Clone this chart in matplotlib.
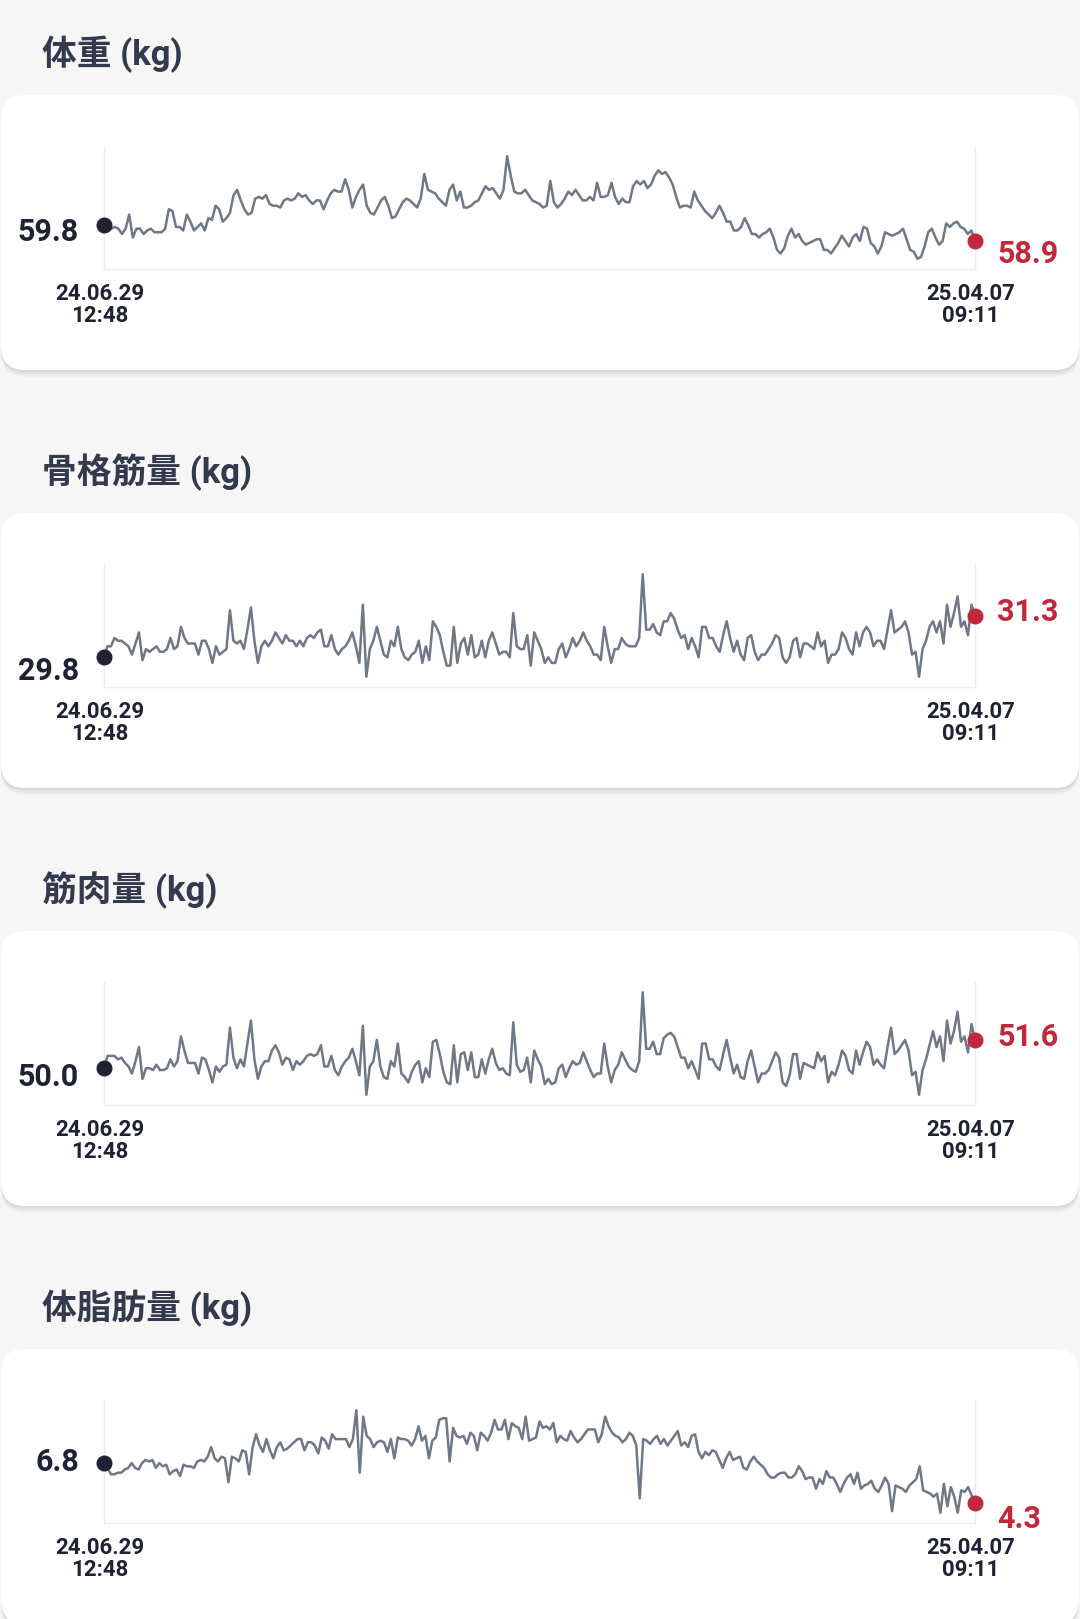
import matplotlib
matplotlib.use('Agg')
import matplotlib.pyplot as plt
from matplotlib.patches import FancyBboxPatch
import numpy as np

# ---------------- data ----------------
titles = ["体重 (kg)", "骨格筋量 (kg)", "筋肉量 (kg)", "体脂肪量 (kg)"]
start_date = ["24.06.29", "12:48"]
end_date = ["25.04.07", "09:11"]

weight = [59.8, 59.7, 59.6, 59.7, 59.6, 59.3, 59.6, 60.4, 59.1, 59.6, 59.6, 59.3, 59.5, 59.6, 59.4, 59.4,
          59.4, 59.6, 60.7, 60.6, 59.7, 59.7, 59.5, 60.4, 60.0, 59.5, 59.7, 59.9, 59.5, 60.2, 60.1, 60.9,
          60.7, 60.0, 60.2, 60.5, 61.5, 61.8, 61.2, 60.7, 60.4, 60.5, 61.3, 61.4, 61.3, 61.5, 61.0, 60.9,
          60.9, 60.8, 61.2, 61.3, 61.2, 61.3, 61.6, 61.4, 61.5, 61.2, 61.0, 61.2, 61.2, 60.7, 61.2, 61.6,
          61.8, 61.7, 61.7, 62.4, 61.8, 60.8, 61.4, 61.8, 62.1, 60.9, 60.5, 60.4, 60.8, 61.2, 61.4, 60.9,
          60.2, 60.3, 60.7, 61.1, 61.3, 61.2, 61.0, 60.8, 61.3, 62.7, 61.8, 61.7, 61.6, 61.3, 61.1, 60.9,
          61.8, 62.1, 61.2, 61.7, 60.8, 60.8, 60.9, 61.1, 61.2, 61.6, 62.0, 61.8, 61.9, 61.6, 61.3, 61.8,
          63.7, 62.6, 61.7, 61.6, 61.6, 61.8, 61.5,
          61.2, 61.1, 61.0, 60.8, 60.9, 62.3, 61.1, 60.8, 61.0, 61.3, 61.7, 61.5, 61.8, 61.5, 61.2, 61.2,
          61.4, 61.2, 62.2, 61.4, 61.4, 61.5, 62.2, 61.4, 61.0, 61.3, 61.1, 61.1, 62.0, 62.3, 62.1, 62.3,
          61.9, 62.1, 62.6, 62.9, 62.7, 62.8, 62.5, 62.1, 61.4, 60.8, 60.9, 60.9, 60.8, 61.7, 61.2, 60.9,
          60.6, 60.4, 60.2, 60.5, 60.9, 60.5, 60.0, 60.0, 59.5, 59.5, 59.7, 60.2, 59.8, 59.3, 59.3, 59.1,
          59.3, 59.4, 59.6, 59.1, 58.4, 58.2, 58.5, 59.2, 59.6, 59.1, 59.3, 58.9, 58.7, 58.8, 58.9, 59.0,
          59.0, 58.4, 58.4, 58.2, 58.5, 58.8, 59.2, 58.9, 58.6, 59.1, 59.3, 58.9, 59.7, 59.6, 58.8, 58.6,
          58.2, 58.6, 59.4, 59.3, 59.2, 59.3, 59.4, 59.6, 59.0, 58.4, 58.3, 57.9, 58.0, 58.6, 59.4, 59.6,
          59.1, 58.7, 58.9, 59.9, 59.7, 59.9, 60.0, 59.7, 59.6, 59.3, 59.5, 58.9]

skeletal_muscle = [29.8, 30.2, 30.2, 30.5, 30.4, 30.4, 30.3, 30.2, 29.9, 30.3, 30.7, 29.7, 30.1, 30.0, 30.1,
                   30.2, 30.0, 30.0, 30.1, 30.5, 30.1, 30.2, 30.9, 30.5, 30.3, 30.3, 30.3, 29.9, 30.4, 30.4,
                   30.1, 29.6, 30.2, 29.9, 30.0, 30.1, 31.5, 30.4, 30.3, 30.4, 30.1, 30.8, 31.6, 30.4, 29.6,
                   30.2, 30.4, 30.2, 30.4, 30.7, 30.5, 30.3, 30.6, 30.4, 30.4, 30.2, 30.4, 30.2, 30.5, 30.6,
                   30.5, 30.7, 30.8, 30.2, 30.2, 30.6, 30.1, 29.9, 30.1, 30.2, 30.4, 30.7, 30.2, 29.6, 31.7,
                   29.1, 30.1, 30.4, 30.9, 30.4, 29.9, 29.8, 30.4, 30.2, 30.9, 30.1, 29.8, 29.7, 29.9, 30.0,
                   30.4, 29.6, 30.2, 29.7, 31.1, 30.9, 30.6, 30.0, 29.5, 29.5, 30.9, 29.6, 30.3, 30.5, 29.9,
                   30.6, 29.8, 29.9, 30.4, 29.8, 30.4, 30.7, 30.3, 29.9, 30.0, 30.0, 29.8, 31.4, 30.2, 30.1,
                   30.1, 30.6, 29.5, 30.7, 30.4,
                   30.1, 29.6, 29.8, 29.6, 29.6, 30.1, 30.3, 29.8, 30.1, 30.5, 30.2, 30.4, 30.7, 30.4, 30.2,
                   29.9, 29.9, 29.7, 30.9, 30.2, 29.6, 30.1, 30.1, 30.5, 30.3, 30.2, 30.2, 30.2, 30.5, 32.8,
                   30.8, 30.8, 31.0, 30.7, 30.6, 31.1, 31.1, 31.4, 31.2, 30.8, 30.5, 30.6, 30.1, 30.5, 30.2,
                   29.8, 30.9, 30.9, 30.5, 30.5, 30.2, 30.0, 30.6, 31.1, 30.5, 30.0, 30.4, 29.9, 29.7, 30.5,
                   30.6, 30.0, 29.7, 29.9, 29.9, 30.1, 30.3, 30.6, 30.5, 29.8, 29.6, 29.8, 30.4, 30.5, 29.8,
                   30.3, 30.3, 30.2, 30.1, 30.7, 30.2, 30.4, 29.6, 29.9, 29.9, 30.1, 30.7, 30.5, 30.1, 29.9,
                   30.7, 30.2, 30.7, 30.9, 30.7, 30.2, 30.4, 30.4, 30.1, 30.8, 31.5, 30.7, 30.8, 30.9, 31.1,
                   30.7, 29.9, 30.0, 29.1, 30.1, 30.4, 30.9, 31.1, 30.7, 31.1, 30.3, 31.7, 30.9, 31.4, 32.0,
                   30.9, 31.1, 30.6, 31.7, 31.3]

muscle = [50.0, 50.7, 50.7, 50.7, 50.5, 50.6, 50.3, 50.1, 49.7, 50.4, 51.2, 49.4, 50.0, 50.0, 49.9, 50.2,
          49.9, 49.9, 50.0, 50.5, 50.1, 50.4, 51.8, 51.0, 50.3, 50.3, 50.3, 49.7, 50.6, 50.5, 49.9, 49.2,
          50.1, 49.8, 50.1, 50.2, 52.3, 50.6, 50.0, 50.5, 50.1, 51.4, 52.7, 50.5, 49.4, 50.1, 50.4, 50.4,
          51.0, 51.3, 50.9, 50.2, 50.6, 50.5, 49.9, 50.4, 50.2, 50.4, 50.7, 50.8, 50.7, 50.8, 51.3, 50.1,
          50.1, 50.7, 49.9, 49.6, 50.1, 50.4, 50.6, 51.1, 50.4, 49.6, 52.4, 48.5, 50.1, 50.4, 51.6, 50.1,
          49.5, 49.4, 50.4, 50.1, 51.4, 49.7, 49.5, 49.2, 49.8, 50.2, 50.4, 49.2, 50.0, 49.5, 51.5, 51.6,
          50.8, 49.8, 49.2, 49.1, 51.3, 49.2, 50.8, 50.9, 49.9, 50.9, 49.5, 49.5, 50.5, 49.7, 50.5, 51.1,
          50.3, 49.9, 50.0, 49.7, 49.6, 52.6, 50.2, 49.8, 49.9, 50.6, 49.2, 51.0, 50.5,
          50.1, 49.1, 49.4, 49.1, 49.2, 50.0, 50.2, 49.5, 50.0, 50.4, 50.2, 50.3, 50.9, 50.4, 49.9, 49.5,
          49.7, 49.7, 51.4, 50.1, 49.2, 49.9, 50.2, 50.9, 50.5, 50.1, 49.9, 49.8, 50.4, 54.3, 51.1, 51.1,
          51.5, 50.8, 50.8, 51.7, 51.9, 52.0, 51.8, 51.2, 50.6, 50.6, 50.0, 50.4, 49.9, 49.4, 51.4, 51.4,
          50.5, 50.5, 50.1, 49.9, 50.8, 51.6, 50.6, 49.7, 50.2, 49.5, 49.4, 50.4, 51.0, 50.1, 49.2, 49.7,
          49.7, 49.9, 50.4, 50.9, 50.6, 49.2, 49.0, 49.6, 50.8, 50.8, 49.4, 50.3, 50.2, 50.1, 50.0, 50.9,
          50.4, 50.7, 49.2, 49.8, 49.6, 50.2, 51.0, 50.7, 49.9, 49.7, 51.0, 50.2, 50.9, 51.5, 51.2, 50.2,
          50.5, 50.2, 50.0, 51.2, 52.3, 50.8, 51.0, 51.3, 51.6, 51.0, 49.6, 49.8, 48.5, 49.9, 50.5, 51.3,
          52.1, 51.2, 51.8, 50.4, 52.7, 51.4, 52.1, 53.2, 51.5, 51.8, 50.9, 52.5, 51.6]

body_fat = [6.8, 6.5, 6.1, 6.1, 6.2, 6.2, 6.4, 6.5, 6.8, 6.5, 6.4, 6.8, 7.0, 6.9, 7.0, 6.5, 6.8, 6.6, 6.7,
            6.1, 6.3, 6.4, 6.0, 6.7, 6.6, 6.6, 6.5, 6.9, 7.0, 6.9, 7.2, 7.8, 7.1, 6.9, 7.2, 7.1, 5.6, 7.2,
            7.1, 6.9, 7.6, 7.5, 6.1, 7.8, 8.6, 7.9, 7.5, 8.3, 7.6, 7.1, 7.8, 8.1, 7.6, 7.7, 7.9, 8.1, 8.3,
            8.3, 7.6, 8.1, 8.1, 7.9, 7.4, 8.4, 8.2, 7.7, 8.6, 8.3, 8.3, 8.3, 8.3, 7.8, 8.3, 10.1, 6.2, 9.7,
            8.5, 8.3, 7.8, 8.1, 8.2, 8.1, 7.5, 8.3, 7.1, 8.4, 8.3, 8.3, 8.2, 7.9, 8.3, 9.1, 8.2, 8.5, 7.1,
            8.2, 8.4, 9.5, 9.6, 9.6, 6.9, 9.0, 8.5, 8.4, 8.5, 8.0, 8.7, 8.5, 7.6, 8.7, 8.5, 8.2, 8.7, 9.5,
            8.9, 8.9, 9.5, 8.3, 9.3, 9.1, 9.0, 8.3, 9.7, 8.2, 8.3,
            8.4, 9.4, 9.0, 9.1, 8.9, 9.3, 8.1, 8.5, 8.3, 8.2, 8.8, 8.4, 8.1, 8.3, 8.6, 8.9, 8.9, 8.9, 8.1,
            8.6, 9.7, 9.1, 8.7, 8.5, 8.4, 8.1, 8.3, 8.7, 8.5, 7.9, 4.6, 8.3, 8.2, 8.0, 8.3, 8.5, 8.0, 8.3,
            7.9, 8.2, 8.5, 8.8, 7.9, 8.1, 7.8, 8.5, 8.6, 7.5, 7.1, 7.5, 7.3, 7.6, 7.5, 7.0, 6.5, 7.1, 7.5,
            7.0, 7.1, 7.2, 6.5, 6.4, 6.9, 7.2, 6.9, 6.7, 6.5, 6.1, 5.9, 5.9, 6.1, 6.2, 6.2, 5.9, 5.9, 6.1,
            6.6, 6.3, 5.8, 5.9, 5.9, 5.2, 5.8, 5.5, 6.3, 5.9, 5.9, 5.5, 5.0, 5.5, 5.9, 6.1, 5.5, 6.2, 5.2,
            5.4, 5.5, 5.7, 5.2, 5.0, 5.4, 5.9, 5.5, 3.8, 5.4, 5.3, 5.2, 5.0, 5.4, 5.6, 5.8, 6.6, 5.1, 5.0,
            4.9, 4.7, 4.9, 3.7, 5.5, 4.1, 5.3, 4.7, 3.7, 5.1, 5.0, 5.3, 4.8, 4.3]

series = [weight, skeletal_muscle, muscle, body_fat]

# ---------------- styling / layout ----------------
W, H = 1080, 1619
STEP = 418
FONT = ['Roboto', 'Noto Sans CJK JP', 'DejaVu Sans']
BG = '#f6f6f6'
LINE = '#6e7886'
DARK = '#1f2232'
RED = '#c1283b'
TITLE = '#343a4d'

# label offsets (pixels, relative to the marker) for start / end value labels
start_dy = [-16, -23, -18, -8]
end_dy = [-22, -5, -6, -25]

fig = plt.figure(figsize=(W / 100, H / 100), dpi=100)
fig.patch.set_facecolor(BG)
bg = fig.add_axes([0, 0, 1, 1])
bg.set_xlim(0, W)
bg.set_ylim(H, 0)
bg.axis('off')

for k, (title, vals) in enumerate(zip(titles, series)):
    off = STEP * k
    card_top, card_h = 95 + off, 275
    # soft shadow
    for dy, a in [(7, 0.025), (5, 0.03), (3, 0.035), (1.5, 0.04)]:
        bg.add_patch(FancyBboxPatch((1, card_top + dy), 1078, card_h,
                                    boxstyle="round,pad=0,rounding_size=24",
                                    fc='black', ec='none', alpha=a, zorder=1))
    bg.add_patch(FancyBboxPatch((1, card_top), 1078, card_h,
                                boxstyle="round,pad=0,rounding_size=24",
                                fc='white', ec='none', zorder=2))
    bg.text(42, 65 + off, title, fontsize=25, fontweight='bold', color=TITLE,
            family=FONT, ha='left', va='baseline', zorder=3)

    top, bottom = 146 + off, 269 + off
    ax = fig.add_axes([104 / W, 1 - bottom / H, (975 - 104) / W, (bottom - top) / H])
    ax.set_facecolor('none')
    x = np.arange(len(vals))
    ax.plot(x, vals, color=LINE, lw=1.8, solid_joinstyle='round', zorder=3)
    lo, hi = min(vals), max(vals)
    r = hi - lo
    ax.set_xlim(0, len(vals) - 1)
    ax.set_ylim(lo - 0.1 * r, hi + 0.1 * r)
    ax.set_xticks([])
    ax.set_yticks([])
    for s in ['left', 'right', 'bottom']:
        ax.spines[s].set_color('#ececec')
        ax.spines[s].set_linewidth(1.0)
    ax.spines['top'].set_visible(False)

    ax.plot(x[0], vals[0], 'o', ms=10.5, color=DARK, clip_on=False, zorder=5)
    ax.plot(x[-1], vals[-1], 'o', ms=10.5, color=RED, clip_on=False, zorder=5)

    ax.annotate(f"{vals[0]:.1f}", (x[0], vals[0]), xytext=(-25, start_dy[k]),
                textcoords='offset pixels', ha='right', va='baseline',
                fontsize=22, fontweight='bold', color=DARK, family=FONT,
                annotation_clip=False)
    ax.annotate(f"{vals[-1]:.1f}", (x[-1], vals[-1]), xytext=(22, end_dy[k]),
                textcoords='offset pixels', ha='left', va='baseline',
                fontsize=22, fontweight='bold', color=RED, family=FONT,
                annotation_clip=False)

    for j, dy in enumerate([-31, -53]):
        ax.annotate(start_date[j], (0, 0), xycoords='axes fraction', xytext=(-4, dy),
                    textcoords='offset pixels', ha='center', va='baseline',
                    fontsize=16, fontweight='bold', color=DARK, family=FONT,
                    annotation_clip=False)
        ax.annotate(end_date[j], (1, 0), xycoords='axes fraction', xytext=(-4, dy),
                    textcoords='offset pixels', ha='center', va='baseline',
                    fontsize=16, fontweight='bold', color=DARK, family=FONT,
                    annotation_clip=False)

fig.savefig('out.png', dpi=100, facecolor=BG)
